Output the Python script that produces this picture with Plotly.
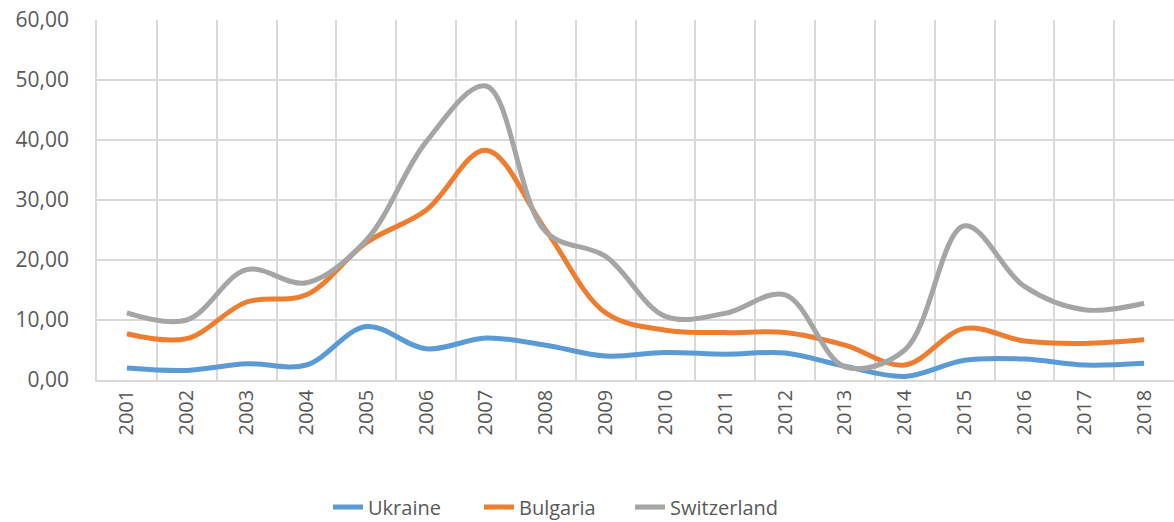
import plotly.graph_objects as go

years = [str(y) for y in range(2001, 2019)]
ukraine = [2.0, 1.6, 2.7, 2.5, 8.9, 5.2, 7.0, 5.8, 4.0, 4.6, 4.3, 4.5, 2.3, 0.6, 3.3, 3.5, 2.5, 2.8]
bulgaria = [7.7, 6.9, 13.0, 14.2, 22.9, 28.3, 38.3, 25.0, 11.2, 8.3, 7.9, 7.9, 5.8, 2.5, 8.6, 6.5, 6.1, 6.7]
switzerland = [11.2, 10.0, 18.4, 16.2, 23.3, 39.7, 49.0, 24.7, 20.6, 10.6, 11.1, 14.2, 2.2, 5.0, 25.7, 15.6, 11.7, 12.8]

series = [("Ukraine", ukraine, "#5B9BD5"),
          ("Bulgaria", bulgaria, "#ED7D31"),
          ("Switzerland", switzerland, "#A5A5A5")]

fig = go.Figure()
for name, vals, color in series:
    fig.add_trace(go.Scatter(x=years, y=vals, name=name, mode="lines",
                             line=dict(color=color, width=5, shape="spline", smoothing=1.0)))

font_family = "Open Sans, Lato, sans-serif"
fig.update_layout(
    width=1174, height=522,
    margin=dict(l=97, r=0, t=20, b=142, autoexpand=False),
    paper_bgcolor="white", plot_bgcolor="white",
    separators=", ",
    font=dict(family=font_family, size=20, color="#595959"),
    showlegend=True,
    legend=dict(orientation="h", x=0.2145, xanchor="left", y=-0.353, yanchor="middle",
                font=dict(size=20, color="#595959"), entrywidth=106, entrywidthmode="pixels"),
    xaxis=dict(type="category", tickson="boundaries", showgrid=True, gridcolor="#D9D9D9",
               gridwidth=1.5, tickangle=-90, ticks="", showline=True, linecolor="#D9D9D9",
               linewidth=1.5, automargin=False, ticklabeloverflow="allow",
               tickfont=dict(size=20, color="#595959"), range=[-0.5, 17.5]),
    yaxis=dict(range=[0, 60], dtick=10, tickformat=".2f", showgrid=True, gridcolor="#D9D9D9",
               gridwidth=1.5, zeroline=False, showline=True, linecolor="#D9D9D9", linewidth=1.5,
               automargin=False, ticklabeloverflow="allow",
               tickfont=dict(size=21, color="#595959"), ticks="", ticklabelstandoff=22),
)

fig.write_html("out.html", config={"displayModeBar": False},
               post_script="document.body.style.margin='0';document.body.style.overflow='hidden';")
